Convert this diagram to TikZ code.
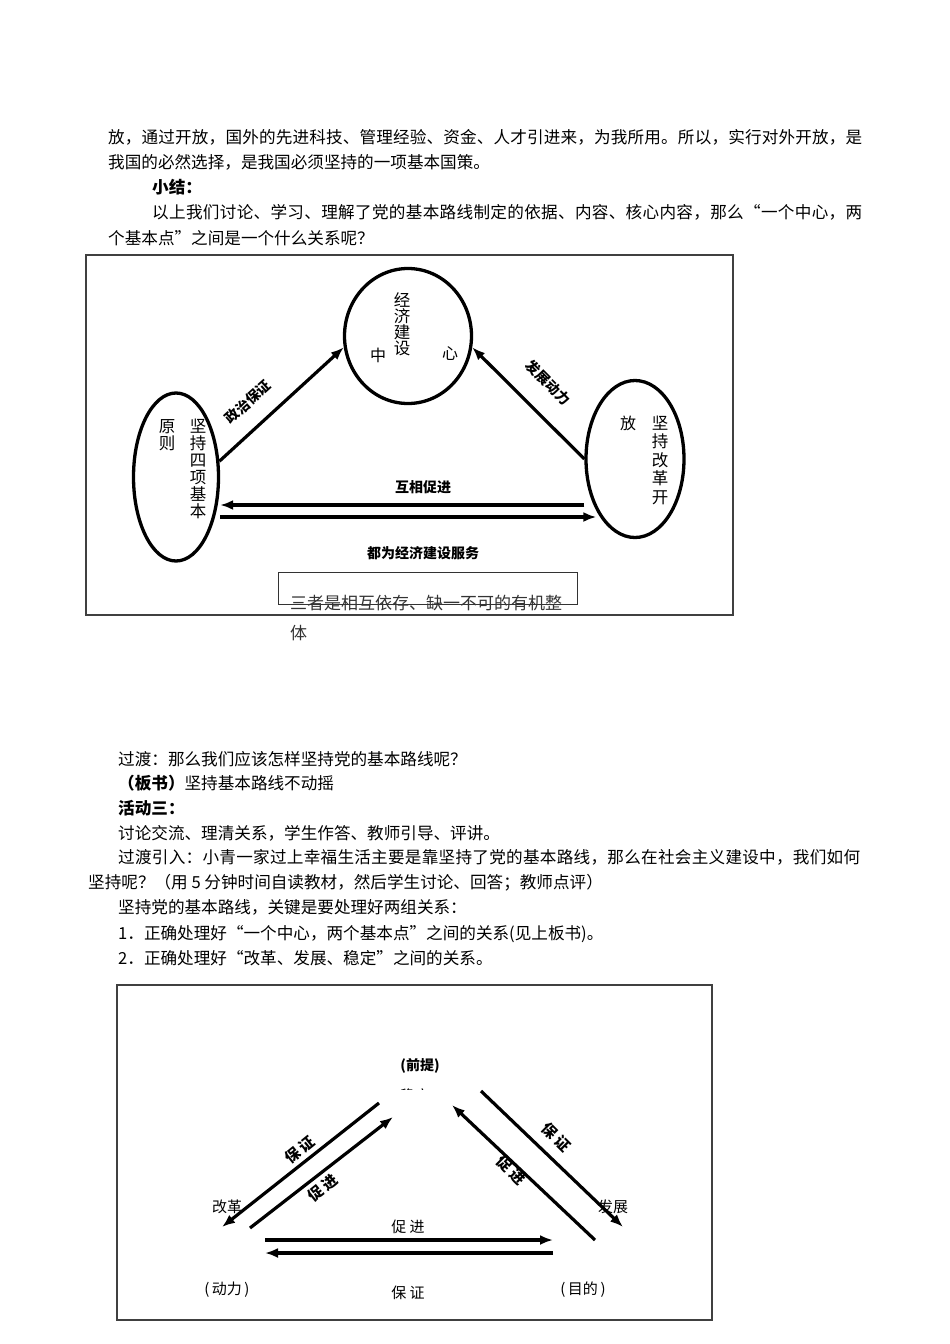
\documentclass[tikz,border=0pt]{standalone}
\usepackage{fontspec}
\setmainfont{Noto Sans CJK SC}
\usetikzlibrary{arrows.meta,shapes.geometric}

% put CJK characters in their own class, so a full line can be spread out
\newcount\cjkchar
\newcommand{\cjkrange}[2]{%
  \cjkchar=#1\relax
  \loop\ifnum\cjkchar<#2\relax
    \XeTeXcharclass\cjkchar=1
    \advance\cjkchar by 1
  \repeat}
\cjkrange{"3000}{"3040}
\cjkrange{"4E00}{"A000}
\cjkrange{"FF00}{"FFF0}
\cjkrange{"201C}{"201E}
\XeTeXinterchartoks 1 1 = {\hskip 0pt plus 1fil\relax}
\newcommand{\jline}[2]{{\XeTeXinterchartokenstate=1 \hbox to #1{#2}}}

\begin{document}
\begin{tikzpicture}[x=1pt, y=-1pt,
  every node/.style={inner sep=0pt},
  body/.style={anchor=base west, font=\fontsize{16.6pt}{20pt}\selectfont},
  ellip/.style={draw, ellipse, line width=3.3pt},
  vert/.style={align=center, font=\fontsize{16.5pt}{#1}\selectfont},
  tag/.style={font=\fontsize{14pt}{16pt}\selectfont\bfseries},
  lbl/.style={font=\fontsize{15pt}{17pt}\selectfont},
  arr/.style={line width=3.2pt, -{Latex[length=13pt,width=10pt]}},
  boxline/.style={draw=black!75, line width=1.2pt}]

  \useasboundingbox (0,0) rectangle (950,1344);

  % Text above the first picture
  \node[body] (t1) at (108,143) {\jline{754pt}{放，通过开放，国外的先进科技、管理经验、资金、人才引进来，为我所用。所以，实行对外开放，是}};
  \node[body] (t2) at (108,168) {我国的必然选择，是我国必须坚持的一项基本国策。};
  \node[body] (t3) at (152,193) {\bfseries 小结：};
  \node[body] (t4) at (152,218) {\jline{710pt}{以上我们讨论、学习、理解了党的基本路线制定的依据、内容、核心内容，那么“一个中心，两}};
  \node[body] (t5) at (108,244) {个基本点”之间是一个什么关系呢？};

  % First picture: one centre, two basic points
  \draw[boxline] (86,255) rectangle (733,615);
  \node[ellip, minimum width=127pt, minimum height=135pt] (cp) at (408,336) {};
  \node[ellip, minimum width=85pt, minimum height=168pt] (lp) at (176,477) {};
  \node[ellip, minimum width=98pt, minimum height=157pt] (rp) at (635,459) {};

  \node[vert=16pt] (cpa) at (402,324) {经\\济\\建\\设};
  \node[lbl, font=\fontsize{16pt}{18pt}\selectfont] (cpb) at (378,355) {中};
  \node[lbl, font=\fontsize{16pt}{18pt}\selectfont] (cpc) at (450,354) {心};
  \node[vert=16.5pt] (lpa) at (167,435) {原\\则};
  \node[vert=17pt] (lpb) at (198,469) {坚\\持\\四\\项\\基\\本};
  \node[lbl, font=\fontsize{16pt}{18pt}\selectfont] (rpa) at (628,423) {放};
  \node[vert=18.5pt] (rpb) at (660,460) {坚\\持\\改\\革\\开};

  \draw[arr] (lp.20) -- (cp.190);
  \draw[arr] (rp.180) -- (cp.350);
  \draw[arr, line width=4pt] (rp.west |- 0,505) -- (lp.east |- 0,505);
  \draw[arr, line width=4pt] (lp.east |- 0,517) -- ([xshift=12pt]rp.west |- 0,517);

  \node[tag, rotate=42] (zz) at (248,402) {政治保证};
  \node[tag, rotate=-45] (fd) at (548,383) {发展动力};
  \node[tag] (hx) at (423,487) {互相促进};
  \node[tag] (dw) at (423,553) {都为经济建设服务};

  \draw[black!80, line width=1pt] (278,572) rectangle (577,604);
  \node[body, font=\fontsize{17pt}{20pt}\selectfont, text=black!80] (sz) at (290,609) {三者是相互依存、缺一不可的有机整};
  \node[body, font=\fontsize{17pt}{20pt}\selectfont, text=black!80] (st) at (290,639) {体};

  % Text between the pictures
  \node[body] (s1) at (118,765) {过渡：那么我们应该怎样坚持党的基本路线呢？};
  \node[body] (s2) at (118,789) {{\bfseries （板书）}坚持基本路线不动摇};
  \node[body] (s3) at (118,814) {\bfseries 活动三：};
  \node[body] (s4) at (118,839) {讨论交流、理清关系，学生作答、教师引导、评讲。};
  \node[body] (s5) at (118,863) {\jline{742pt}{过渡引入：小青一家过上幸福生活主要是靠坚持了党的基本路线，那么在社会主义建设中，我们如何}};
  \node[body] (s6) at (88,888) {坚持呢？（用 5 分钟时间自读教材，然后学生讨论、回答；教师点评）};
  \node[body] (s7) at (118,913) {坚持党的基本路线，关键是要处理好两组关系：};
  \node[body] (s8) at (118,939) {1．正确处理好“一个中心，两个基本点”之间的关系(见上板书)。};
  \node[body] (s9) at (118,964) {2．正确处理好“改革、发展、稳定”之间的关系。};

  % Second picture: reform, development, stability
  \draw[boxline] (117,985) rectangle (712,1320);
  \node[tag] (qt) at (420,1066) {(前提)};
  \begin{scope}
    \clip (398,1087) rectangle (432,1089.5);
    \node[lbl] (wd) at (415,1096) {稳定};
  \end{scope}
  \node[lbl] (gg) at (227,1207) {改革};
  \node[lbl] (fz) at (613,1207) {发展};
  \node[lbl] (dl) at (227,1290) {(\,动力\,)};
  \node[lbl] (md) at (583,1290) {(\,目的\,)};
  \node[lbl] (cj) at (408,1227) {促 进};
  \node[lbl] (bz) at (408,1293) {保 证};

  \coordinate (a1) at (379,1103); \coordinate (a2) at (222,1227);
  \coordinate (b1) at (250,1228); \coordinate (b2) at (393,1117);
  \coordinate (c1) at (595,1240); \coordinate (c2) at (452,1105);
  \coordinate (d1) at (481,1091); \coordinate (d2) at (623,1227);
  \coordinate (e1) at (265,1240); \coordinate (e2) at (553,1240);
  \coordinate (f1) at (553,1253); \coordinate (f2) at (265,1253);
  \foreach \p/\q in {a1/a2,b1/b2,c1/c2,d1/d2,e1/e2,f1/f2}
    \draw[arr] (\p) -- (\q);

  \node[tag, font=\fontsize{15pt}{17pt}\selectfont\bfseries, rotate=39] (lb) at (300,1150) {保 证};
  \node[tag, font=\fontsize{15pt}{17pt}\selectfont\bfseries, rotate=39] (lc) at (323,1188) {促 进};
  \node[tag, font=\fontsize{15pt}{17pt}\selectfont\bfseries, rotate=-45] (rc) at (511,1170) {促 进};
  \node[tag, font=\fontsize{15pt}{17pt}\selectfont\bfseries, rotate=-45] (rb) at (556,1137) {保 证};

\end{tikzpicture}
\end{document}
